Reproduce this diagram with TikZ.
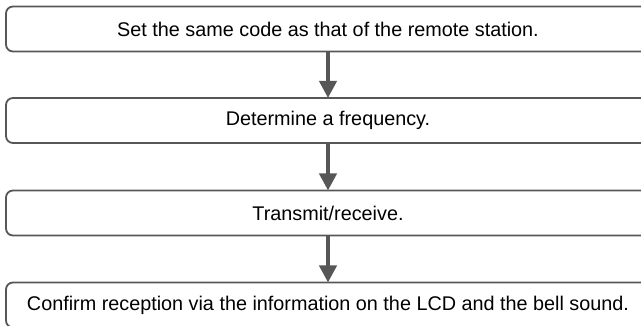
\documentclass[tikz,border=0pt]{standalone}
\usepackage{fontspec}
\setmainfont{Liberation Sans}
\usetikzlibrary{arrows.meta}
\definecolor{linegray}{HTML}{575757}
\tikzset{
  stepbox/.style={draw=linegray, line width=1.8pt, rounded corners=7pt, fill=white,
    minimum width=644pt, minimum height=45pt, inner sep=0pt, outer sep=0pt,
    font=\fontsize{19.8}{23}\selectfont, text=black},
  flowarrow/.style={draw=linegray, line width=4pt, -{Triangle[length=17pt,width=17pt]}}
}
\begin{document}
\begin{tikzpicture}[x=1pt,y=1pt]
\useasboundingbox (0,0) rectangle (641,-326);
\clip (0,0) rectangle (641,-326);
\node[stepbox] (b1) at (328,-29) {Set the same code as that of the remote station.};
\node[stepbox] (b2) at (328,-120.5) {Determine a frequency.};
\node[stepbox] (b3) at (328,-213) {Transmit/receive.};
\node[stepbox] (b4) at (328,-305) {Confirm reception via the information on the LCD and the bell sound.};
\draw[flowarrow] (b1) -- (b2);
\draw[flowarrow] (b2) -- (b3);
\draw[flowarrow] (b3) -- (b4);
\end{tikzpicture}
\end{document}
